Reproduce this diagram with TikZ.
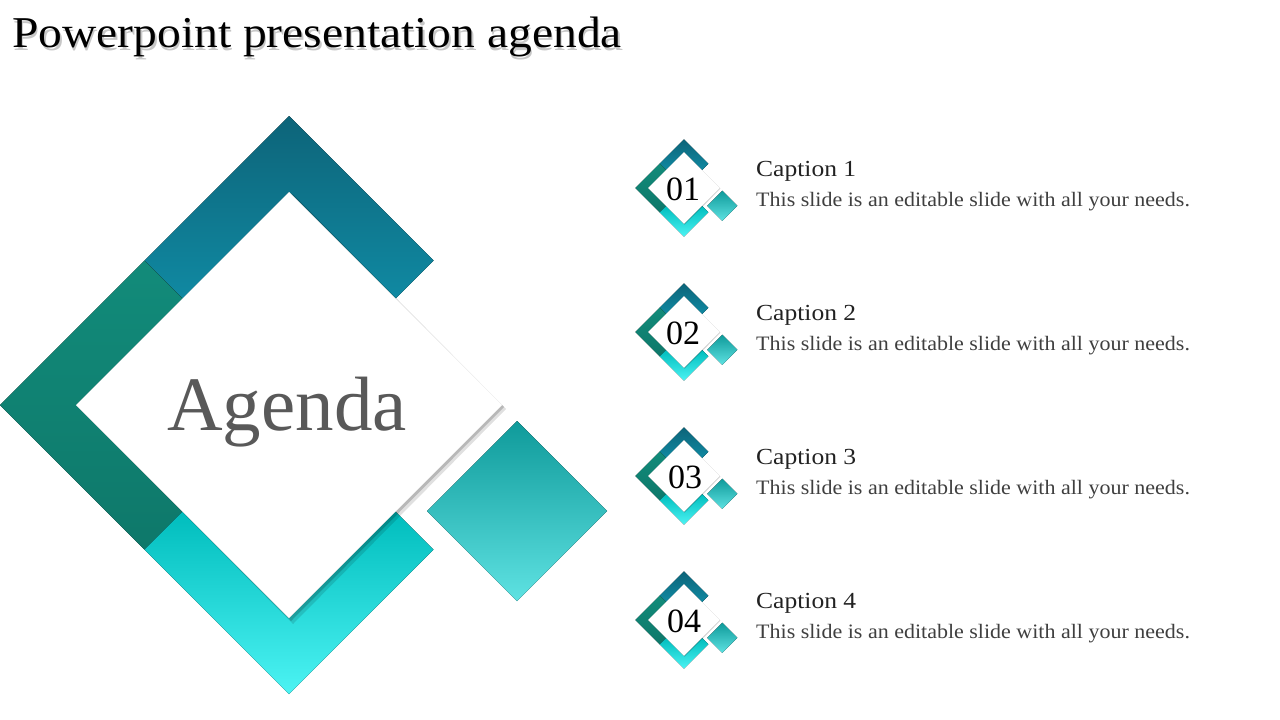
\documentclass[tikz,border=0pt]{standalone}
\usepackage{xcolor}
\usepackage{tikz}
\usepackage{fontspec}
\setmainfont{Liberation Serif}
\newfontfamily\widefont[FakeStretch=1.08]{Liberation Serif}
\newfontfamily\bodyfont[FakeStretch=1.073]{Liberation Serif}
\newfontfamily\capfont[FakeStretch=1.11]{Liberation Serif}
\definecolor{bandblue}{HTML}{0D6479}
\definecolor{bandbluelight}{HTML}{1089A2}
\definecolor{bandgreen}{HTML}{128B7A}
\definecolor{bandgreendark}{HTML}{0E786A}
\definecolor{bandcyantop}{HTML}{00BDBD}
\definecolor{bandcyan}{HTML}{00E8EA}
\definecolor{bandcyanlight}{HTML}{4CF3F3}
\definecolor{tiletop}{HTML}{0F9A9A}
\definecolor{tilemid}{HTML}{12C6C6}
\definecolor{tilebottom}{HTML}{5EE2E2}
\definecolor{agendagray}{HTML}{595959}
\definecolor{captiongray}{HTML}{222222}
\definecolor{bodygray}{HTML}{3F3F3F}

% diamond mark: centre x, centre y, scale
\newcommand{\agendamark}[3]{%
  \begin{scope}[shift={(#1,#2)}, scale=#3]
    % top band
    \fill[top color=bandblue, bottom color=bandbluelight]
      (-144.5,-144.5) -- (0,-289) -- (144.5,-144.5) -- (106.5,-106.5) -- (0,-213) -- (-106.5,-106.5) -- cycle;
    % left band
    \fill[top color=bandgreen, bottom color=bandgreendark]
      (-144.5,-144.5) -- (-289,0) -- (-144.5,144.5) -- (-106.5,106.5) -- (-213,0) -- (-106.5,-106.5) -- cycle;
    % bottom band
    \fill[top color=bandcyantop, middle color=bandcyan, bottom color=bandcyanlight]
      (-144.5,144.5) -- (0,289) -- (144.5,144.5) -- (106.5,106.5) -- (0,213) -- (-106.5,106.5) -- cycle;
    % loose tile
    \fill[top color=tiletop, middle color=tilemid, bottom color=tilebottom]
      (228,16) -- (318,106) -- (228,196) -- (138,106) -- cycle;
    % white face with its shadow
    \fill[black, opacity=0.12] (4,-211) -- (217,4) -- (4,219) -- (-209,4) -- cycle;
    \fill[black, opacity=0.18] (2,-212) -- (215,2) -- (2,216) -- (-211,2) -- cycle;
    \fill[white] (0,-213) -- (213,0) -- (0,213) -- (-213,0) -- cycle;
  \end{scope}}

\begin{document}
\begin{tikzpicture}[x=1pt, y=-1pt,
    titletext/.style={font=\widefont\fontsize{44}{50}\selectfont, inner sep=0pt, anchor=base west},
    numtext/.style={font=\fontsize{34}{38}\selectfont, text=black, anchor=base},
    captiontext/.style={font=\capfont\fontsize{23}{26}\selectfont, text=captiongray, inner sep=0pt, anchor=base west},
    bodytext/.style={font=\bodyfont\fontsize{20.5}{24}\selectfont, text=bodygray, inner sep=0pt, anchor=base west}]
    \useasboundingbox (0,0) rectangle (1280,720);

    % Title with soft shadow
    \node[titletext, text=black!22] at (13.5,50) {Powerpoint presentation agenda};
    \node (title) [titletext, text=black] at (12,47) {Powerpoint presentation agenda};

    % Main mark
    \agendamark{289}{405}{1}
    \node (agenda) [font=\fontsize{77}{80}\selectfont, text=agendagray, anchor=base] at (287,430) {Agenda};

    % Small marks
    \agendamark{684}{188}{0.168}
    \agendamark{684}{332}{0.168}
    \agendamark{684}{476}{0.168}
    \agendamark{684}{620}{0.168}
    \node (num1) [numtext] at (683,200) {01};
    \node (num2) [numtext] at (683,344) {02};
    \node (num3) [numtext] at (685,488) {03};
    \node (num4) [numtext] at (684,632) {04};

    % Captions
    \node (cap1) [captiontext] at (756,176) {Caption 1};
    \node (desc1) [bodytext] at (756,206) {This slide is an editable slide with all your needs.};
    \node (cap2) [captiontext] at (756,320) {Caption 2};
    \node (desc2) [bodytext] at (756,350) {This slide is an editable slide with all your needs.};
    \node (cap3) [captiontext] at (756,464) {Caption 3};
    \node (desc3) [bodytext] at (756,494) {This slide is an editable slide with all your needs.};
    \node (cap4) [captiontext] at (756,608) {Caption 4};
    \node (desc4) [bodytext] at (756,638) {This slide is an editable slide with all your needs.};
\end{tikzpicture}
\end{document}
